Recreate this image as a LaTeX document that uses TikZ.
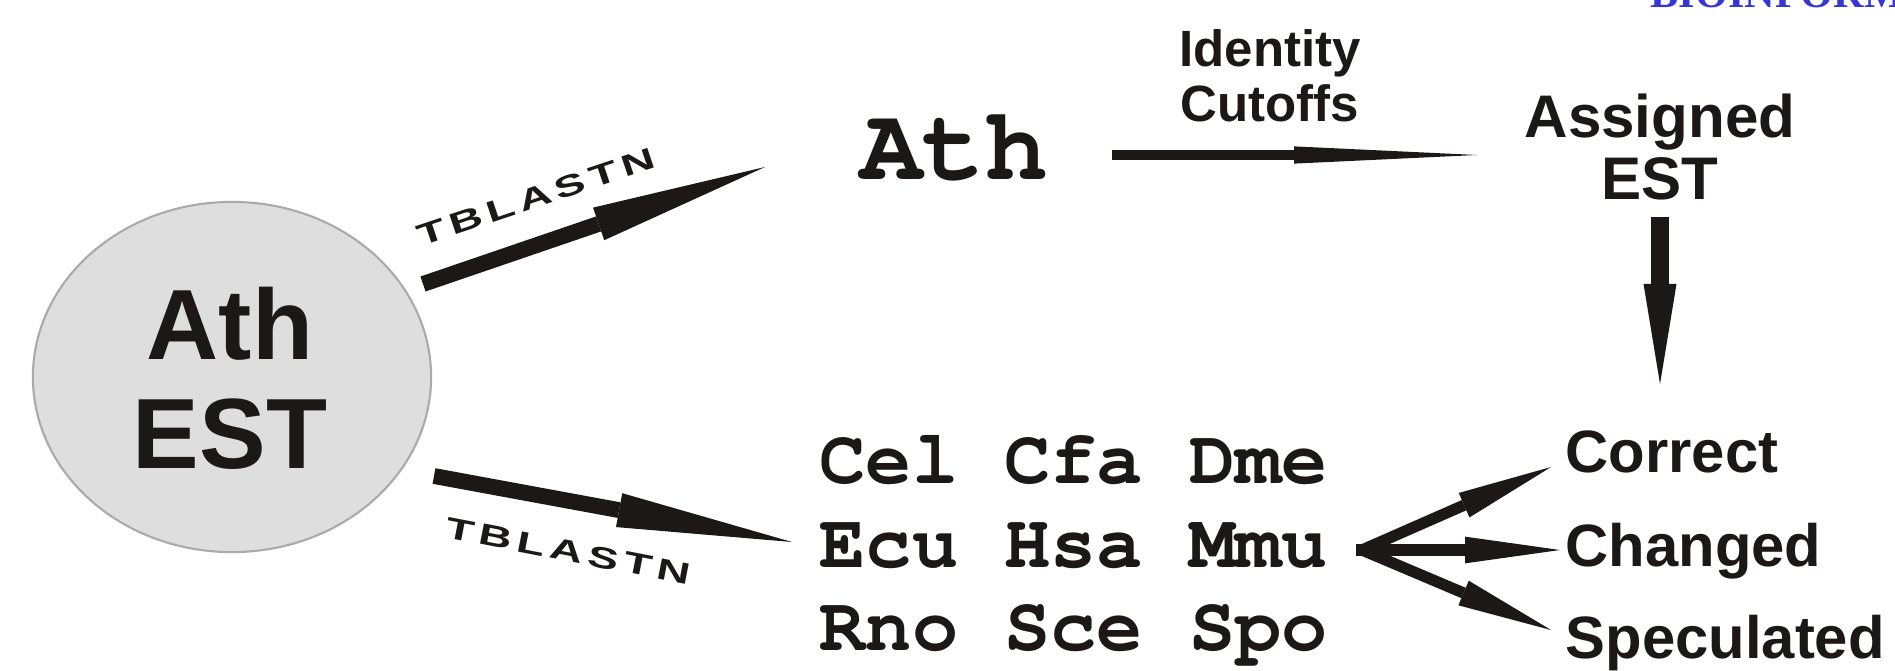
\documentclass[tikz,border=0pt]{standalone}
\usepackage{fontspec}
\setmainfont{Liberation Sans}
\newfontfamily\monof{TeX Gyre Cursor}
\newfontfamily\widef{Liberation Sans}[FakeStretch=1.55,LetterSpace=18]
\newfontfamily\seriff{Liberation Serif}
\usetikzlibrary{arrows.meta,shapes.geometric}
\definecolor{circfill}{RGB}{222,222,222}
\definecolor{circline}{RGB}{170,170,170}
\definecolor{hdrblue}{RGB}{55,55,215}
\definecolor{ink}{RGB}{28,24,24}
\begin{document}
\begin{tikzpicture}[x=0.01cm,y=-0.01cm,
  every node/.style={inner sep=0pt,text=ink},
  blastarrow/.style={draw=ink,line width=4.5pt,-{Triangle[length=50pt,width=9.8pt,line width=0pt]}},
  cutarrow/.style={draw=ink,line width=2.6pt,-{Triangle[length=52pt,width=4.9pt,line width=0pt]}},
  downarrow/.style={draw=ink,line width=5.1pt,-{Triangle[length=28.5pt,width=9.4pt,line width=0pt]}},
  fanarrow/.style={draw=ink,line width=3.2pt,-{Triangle[length=27pt,width=7.6pt,line width=0pt]}},
  sanslabel/.style={font=\bfseries\fontsize{17.1pt}{17.6pt}\selectfont,align=center},
  outlabel/.style={font=\bfseries\fontsize{17pt}{18pt}\selectfont,anchor=base west},
  blastlabel/.style={font=\widef\bfseries\fontsize{8.5pt}{10pt}\selectfont}]
\useasboundingbox (0,0) rectangle (1895,670);
\clip (0,0) rectangle (1895,670);

% header (cut off)
\node[anchor=base west,text=hdrblue,font=\seriff\bfseries\fontsize{12pt}{14pt}\selectfont] (hdr) at (1650,8) {BIOINFORMATICS};

% source circle
\node[ellipse,minimum width=3.98cm,minimum height=3.5cm,fill=circfill,draw=circline,line width=0.6pt] (estc) at (232,377) {};
\node[align=center,font=\bfseries\fontsize{28.4pt}{31pt}\selectfont] (est) at (230,378) {Ath\\EST};

% targets
\node[font=\monof\bfseries\fontsize{29.5pt}{30pt}\selectfont] (ath) at (954,148) {Ath};
\node[font=\bfseries\fontsize{14.5pt}{15.6pt}\selectfont,align=center] (idc) at (1270,76) {Identity\\Cutoffs};
\node[sanslabel] (asg) at (1660,147) {Assigned\\EST};
\node[anchor=west,align=left,font=\monof\bfseries\fontsize{21.9pt}{23.8pt}\selectfont] (spp) at (819,551) {Cel Cfa Dme\\Ecu Hsa Mmu\\Rno Sce Spo};
\node[outlabel] (cor) at (1565,472) {Correct};
\node[outlabel] (chg) at (1565,566) {Changed};
\node[outlabel] (spc) at (1565,658) {Speculated};

% arrow end points
\coordinate (b1s) at (423,284);
\coordinate (b1e) at (765,167);
\coordinate (b2s) at (434,476);
\coordinate (b2e) at (792,542);
\coordinate (cs) at (1112,155);
\coordinate (ce) at (1477,155);
\coordinate (ds) at (1660,217);
\coordinate (de) at (1660,384);
\coordinate (fs) at (1362,550);
\coordinate (f1) at (1551,467);
\coordinate (f2) at (1560,550);
\coordinate (f3) at (1551,630);

\draw[blastarrow] (b1s) -- (b1e);
\draw[blastarrow] (b2s) -- (b2e);
\draw[cutarrow] (cs) -- (ce);
\draw[downarrow] (ds) -- (de);
\draw[fanarrow] (fs) -- (f1);
\draw[fanarrow] (fs) -- (f2);
\draw[fanarrow] (fs) -- (f3);
\fill[ink] (fs) ++(-6,-6) rectangle ++(12,12);

\node[blastlabel,rotate=18.5] (tb1) at (536,197) {TBLASTN};
\node[blastlabel,rotate=-11] (tb2) at (568,551) {TBLASTN};
\end{tikzpicture}
\end{document}
